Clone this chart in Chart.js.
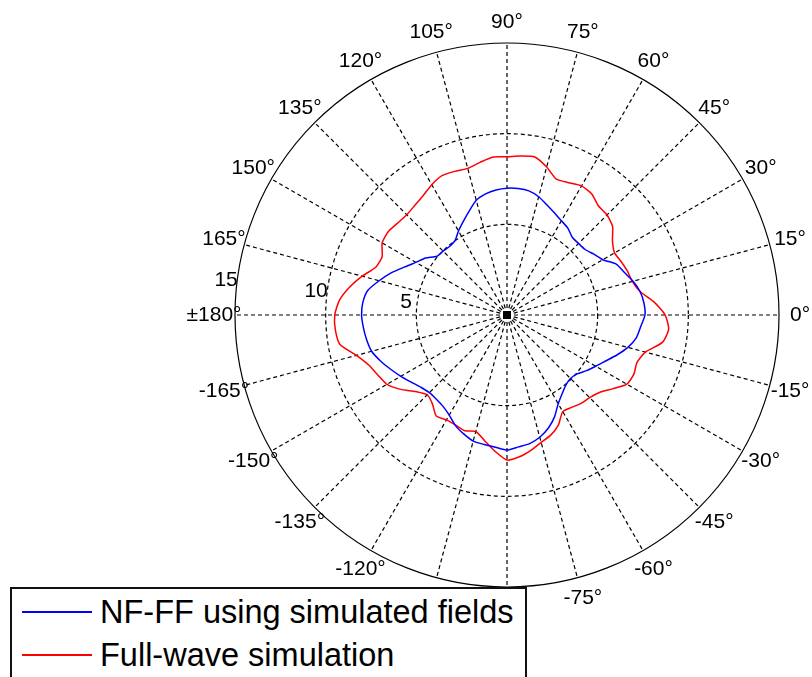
<!DOCTYPE html>
<html>
<head>
<meta charset="utf-8">
<script src="https://cdn.jsdelivr.net/npm/chart.js@4"></script>
<style>
  body { margin: 0; background: #fff; }
  #wrap { position: relative; width: 812px; height: 677px; overflow: hidden; }
  #polar { position: absolute; left: 0; top: 0; }
  #legend {
    position: absolute; left: 10px; top: 587px; width: 513px; height: 110px;
    border: 2px solid #111; background: #fff;
    font-family: Arial, "Liberation Sans", sans-serif; font-size: 32.5px; color: #000;
  }
  .row { position: absolute; left: 0; height: 32px; line-height: 32px; white-space: nowrap; }
  .swatch { position: absolute; left: 10px; width: 70px; height: 2px; top: 14px; }
  .txt { position: absolute; left: 88px; top: -1px; }
</style>
</head>
<body>
<div id="wrap">
  <canvas id="polar" width="812" height="677"></canvas>
  <div id="legend">
    <div class="row" style="top:8px"><span class="swatch" style="background:#0000ff"></span><span class="txt">NF-FF using simulated fields</span></div>
    <div class="row" style="top:51px"><span class="swatch" style="background:#ff0000"></span><span class="txt">Full-wave simulation</span></div>
  </div>
</div>
<script>
// azimuth in degrees, counter-clockwise from the +x axis
const angles = [
  -180, -175, -170, -165, -160, -155, -150, -145, -140, -135, -130, -125,
  -120, -115, -110, -105, -100, -95, -90, -85, -80, -75, -70, -65,
  -60, -55, -50, -45, -40, -35, -30, -25, -20, -15, -10, -5,
  0, 5, 10, 15, 20, 25, 30, 35, 40, 45, 50, 55,
  60, 65, 70, 75, 80, 85, 90, 95, 100, 105, 110, 115,
  120, 125, 130, 135, 140, 145, 150, 155, 160, 165, 170, 175
];

const nfffField = [
  8.02, 7.95, 7.86, 7.73, 7.42, 7.08, 6.76, 6.45, 6.20, 6.06, 6.06, 6.15,
  6.37, 6.73, 6.98, 7.20, 7.25, 7.32, 7.45, 7.30, 7.20, 6.98, 6.65, 6.20,
  5.65, 5.30, 5.05, 4.95, 5.05, 5.35, 5.65, 6.00, 6.45, 6.90, 7.24, 7.40,
  7.61, 7.58, 7.45, 7.20, 6.88, 6.65, 6.10, 5.85, 5.62, 5.58, 5.60, 5.85,
  6.00, 6.20, 6.45, 6.75, 6.95, 7.00, 6.99, 6.92, 6.78, 6.55, 6.10, 5.70,
  5.35, 5.00, 4.93, 4.98, 5.04, 5.48, 5.80, 6.25, 6.80, 7.30, 7.80, 7.98
];

const fullWave = [
  9.50, 9.50, 9.35, 8.60, 8.10, 7.85, 7.65, 7.15, 6.57, 6.22, 6.40, 6.80,
  6.68, 6.70, 6.79, 6.65, 7.05, 7.55, 8.00, 7.85, 7.58, 7.27, 7.05, 6.70,
  6.15, 6.22, 6.36, 6.45, 6.65, 7.10, 7.63, 7.72, 7.63, 7.90, 8.70, 8.95,
  8.72, 8.15, 7.45, 7.15, 7.07, 6.95, 6.85, 7.10, 7.60, 7.80, 7.85, 8.15,
  8.22, 8.05, 7.97, 8.45, 8.85, 8.80, 8.73, 8.75, 8.55, 8.37, 8.43, 8.48,
  8.30, 8.05, 7.90, 7.82, 7.88, 8.00, 7.95, 7.60, 7.70, 8.27, 8.82, 9.28
];

const radialTicks = [5, 10, 15];
const rMax = 15;

// radar runs clockwise from 3 o'clock, so walk the azimuths downward from 0
const order = [];
for (let k = 0; k < angles.length; k++) {
  let a = -5 * k;
  if (a < -180) a += 360;
  order.push(angles.indexOf(a));
}
const ringAngles = order.map(i => angles[i]);
const degLabel = a => (a === -180 ? '±180°' : a + '°');

const polarText = {
  id: 'polarText',
  afterDraw(chart) {
    const s = chart.scales.r;
    const c = chart.ctx;
    c.save();
    // dense spokes merge into a small dark block at the origin
    c.fillStyle = '#000';
    c.fillRect(s.xCenter - 4, s.yCenter - 4, 8, 8);
    c.font = '21px Arial, "Liberation Sans", sans-serif';
    c.textAlign = 'center';
    c.textBaseline = 'middle';
    ringAngles.forEach((a, i) => {
      if (a % 15 !== 0) return;
      const p = s.getPointPosition(i, s.drawingArea + 21);
      c.fillText(degLabel(a), p.x, p.y);
    });
    // radial values sit just outside each ring, a little above the 180° spoke
    const th = 173 * Math.PI / 180;
    radialTicks.forEach(v => {
      const d = s.getDistanceFromCenterForValue(v) + 11;
      c.fillText(String(v), s.xCenter + d * Math.cos(th), s.yCenter - d * Math.sin(th));
    });
    c.restore();
  }
};

new Chart(document.getElementById('polar'), {
  type: 'radar',
  data: {
    labels: ringAngles.map(degLabel),
    datasets: [
      {
        label: 'NF-FF using simulated fields',
        data: order.map(i => nfffField[i]),
        borderColor: '#0000ff',
        borderWidth: 1.5,
        pointRadius: 0,
        fill: false,
        tension: 0.2
      },
      {
        label: 'Full-wave simulation',
        data: order.map(i => fullWave[i]),
        borderColor: '#ff0000',
        borderWidth: 1.5,
        pointRadius: 0,
        fill: false,
        tension: 0.2
      }
    ]
  },
  options: {
    responsive: false,
    animation: false,
    layout: { padding: { left: 235, top: 43, right: 33, bottom: 90 } },
    plugins: { legend: { display: false }, tooltip: { enabled: false } },
    scales: {
      r: {
        min: 0,
        max: rMax,
        startAngle: 90,
        ticks: { display: false, stepSize: 5 },
        pointLabels: { display: false },
        grid: { circular: true, color: '#000', lineWidth: 1.2 },
        border: { dash: ctx => (ctx.tick && ctx.tick.value === rMax ? [] : [4, 3]) },
        angleLines: {
          color: '#000',
          lineWidth: ctx => (ctx.index % 3 === 0 ? 1.2 : 0),
          borderDash: [4, 3]
        }
      }
    }
  },
  plugins: [polarText]
});
</script>
</body>
</html>
